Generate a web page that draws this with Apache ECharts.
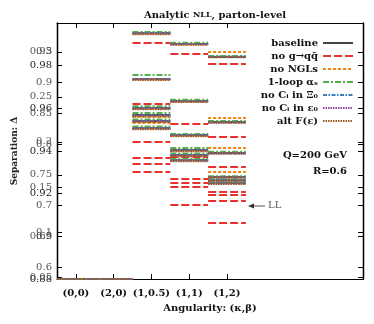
<!DOCTYPE html>
<html>
<head>
<meta charset="utf-8">
<script src="https://cdn.jsdelivr.net/npm/echarts@6/dist/echarts.min.js"></script>
<style>
  html, body { margin: 0; padding: 0; background: #fff; }
  #chart { width: 374px; height: 324px; }
</style>
</head>
<body>
<div id="chart"></div>
<script>
// angularity categories on the x axis
const categories = ['(0,0)', '(2,0)', '(1,0.5)', '(1,1)', '(1,2)'];

// one row per category, one entry per panel value
const baseline = [
  [0.88], [0.88],
  [0.9953, 0.9738, 0.9602, 0.9569, 0.9541, 0.9508],
  [0.9902, 0.9634, 0.9475, 0.9405, 0.9381, 0.9358],
  [0.9841, 0.9536, 0.9391, 0.9278, 0.9264, 0.9250]
];
const noGqq = [
  [0.88], [0.88],
  [0.9906, 0.9620, 0.9442, 0.9367, 0.9339, 0.9302],
  [0.9855, 0.9527, 0.9372, 0.9269, 0.9250, 0.9231, 0.9147],
  [0.9808, 0.9466, 0.9325, 0.9208, 0.9194, 0.9166, 0.9063]
];
const noNGLs = [
  [0.88], [0.88],
  [0.9950, 0.9735, 0.9598, 0.9560, 0.9531, 0.9505],
  [0.9900, 0.9632, 0.9472, 0.9401, 0.9378, 0.9355],
  [0.9864, 0.9555, 0.9414, 0.9302, 0.9264, 0.9250]
];
const oneLoop = [
  [0.88], [0.88],
  [0.9958, 0.9756, 0.9610, 0.9578, 0.9548, 0.9515],
  [0.9907, 0.9640, 0.9480, 0.9414, 0.9388, 0.9362],
  [0.9845, 0.9541, 0.9397, 0.9282, 0.9268, 0.9254]
];
const noCiXi = [
  [0.88], [0.88],
  [0.9952, 0.9737, 0.9600, 0.9567, 0.9540, 0.9507],
  [0.9901, 0.9633, 0.9474, 0.9403, 0.9380, 0.9356],
  [0.9842, 0.9535, 0.9390, 0.9277, 0.9263, 0.9249]
];
const noCiEps = [
  [0.88], [0.88],
  [0.9951, 0.9736, 0.9599, 0.9566, 0.9539, 0.9506],
  [0.9900, 0.9632, 0.9473, 0.9402, 0.9379, 0.9355],
  [0.9841, 0.9534, 0.9389, 0.9277, 0.9262, 0.9248]
];
const altF = [
  [0.88], [0.88],
  [0.9948, 0.9733, 0.9596, 0.9562, 0.9536, 0.9503],
  [0.9898, 0.9630, 0.9470, 0.9399, 0.9376, 0.9352],
  [0.9840, 0.9533, 0.9388, 0.9276, 0.9260, 0.9246]
];

// tick labels of the overlapping y scales
const ticksA = [0.88, 0.9, 0.92, 0.94, 0.96, 0.98];
const ticksB = [0.6, 0.65, 0.7, 0.75, 0.8, 0.85, 0.9, 0.95];
const ticksC = [0.05, 0.1, 0.15, 0.2, 0.25, 0.3];

const serif = "'DejaVu Serif', 'Liberation Serif', serif";

// each value becomes a flat step across its category band
function steps(rows) {
  const out = [];
  rows.forEach((vals, i) => {
    vals.forEach(v => {
      out.push([i - 0.5, v], [i + 0.5, v], [i + 0.5, '-']);
    });
  });
  return out;
}

function seg(name, rows, color, type, width) {
  return {
    name: name,
    type: 'line',
    yAxisIndex: 0,
    showSymbol: false,
    symbol: 'none',
    connectNulls: false,
    animation: false,
    lineStyle: { color: color, type: type, width: width || 2 },
    itemStyle: { color: color },
    data: steps(rows)
  };
}

function yScale(min, max, ticks, pos, showLabels, color) {
  return {
    type: 'value',
    position: pos,
    min: min,
    max: max,
    splitLine: { show: false },
    axisLine: { show: true, onZero: false, lineStyle: { color: '#000', width: 1.2 } },
    axisTick: { show: true, inside: true, length: 5, customValues: ticks, lineStyle: { color: '#000' } },
    axisLabel: {
      show: showLabels,
      customValues: ticks,
      margin: 5,
      fontFamily: serif,
      fontSize: 10,
      color: color,
      formatter: v => String(+v.toFixed(2))
    }
  };
}

const myChart = echarts.init(document.getElementById('chart'));

const main = yScale(0.88, 1.0, ticksA, 'left', true, '#222');
main.name = 'Separation: Δ';
main.nameLocation = 'middle';
main.nameGap = 38;
main.nameTextStyle = { fontFamily: serif, fontSize: 9, fontWeight: 'bold', color: '#222' };

const option = {
  title: {
    text: '{a|Analytic }{b|NLL}{a|, parton-level}',
    left: 210,
    top: 5,
    textAlign: 'center',
    textStyle: {
      rich: {
        a: { fontFamily: serif, fontSize: 10, fontWeight: 'bold', color: '#111' },
        b: { fontFamily: serif, fontSize: 8, fontWeight: 'bold', color: '#111' }
      }
    }
  },
  legend: {
    orient: 'vertical',
    right: 15,
    top: 33,
    align: 'right',
    itemWidth: 30,
    itemHeight: 8,
    itemGap: 3,
    itemStyle: { opacity: 0, borderWidth: 0 },
    textStyle: { fontFamily: serif, fontSize: 10, fontWeight: 'bold', color: '#111' }
  },
  grid: { left: 57, right: 11, top: 23, bottom: 45 },
  xAxis: [
    {
      type: 'value',
      min: -0.5,
      max: 7.6,
      position: 'bottom',
      splitLine: { show: false },
      axisLine: { show: true, onZero: false, lineStyle: { color: '#000', width: 1.2 } },
      axisTick: { show: true, inside: true, length: 5, customValues: [0, 1, 2, 3, 4], lineStyle: { color: '#000' } },
      axisLabel: {
        customValues: [0, 1, 2, 3, 4],
        margin: 9,
        fontFamily: serif,
        fontSize: 10,
        fontWeight: 'bold',
        color: '#111',
        formatter: v => categories[Math.round(v)]
      },
      name: 'Angularity: (κ,β)',
      nameLocation: 'middle',
      nameGap: 24,
      nameTextStyle: { fontFamily: serif, fontSize: 10, fontWeight: 'bold', color: '#111' }
    },
    {
      type: 'value',
      min: -0.5,
      max: 7.6,
      position: 'top',
      splitLine: { show: false },
      axisLine: { show: true, onZero: false, lineStyle: { color: '#000', width: 1.2 } },
      axisTick: { show: true, inside: true, length: 5, customValues: [0, 1, 2, 3, 4], lineStyle: { color: '#000' } },
      axisLabel: { show: false }
    }
  ],
  yAxis: [
    main,
    yScale(0.5805, 0.997, ticksB, 'left', true, '#555'),
    yScale(0.0478, 0.332, ticksC, 'left', true, '#555'),
    yScale(0.88, 1.0, ticksA, 'right', false, '#222'),
    yScale(0.5805, 0.997, ticksB, 'right', false, '#555'),
    yScale(0.0478, 0.332, ticksC, 'right', false, '#555')
  ],
  graphic: [
    {
      type: 'text', right: 27, top: 150,
      style: { text: 'Q=200 GeV', font: 'bold 10px ' + serif, fill: '#111' }
    },
    {
      type: 'text', right: 27, top: 166,
      style: { text: 'R=0.6', font: 'bold 10px ' + serif, fill: '#111' }
    },
    {
      type: 'line',
      shape: { x1: 252, y1: 206, x2: 265, y2: 206 },
      style: { stroke: '#555', lineWidth: 1 }
    },
    {
      type: 'polygon',
      shape: { points: [[248, 206], [254, 203.5], [254, 208.5]] },
      style: { fill: '#333' }
    },
    {
      type: 'text', left: 268, top: 200,
      style: { text: 'LL', font: '10px ' + serif, fill: '#555' }
    }
  ],
  series: [
    seg('baseline', baseline, '#444444', 'solid', 2),
    seg('no g→qq̄', noGqq, '#e8302c', [8, 3], 2),
    seg('no NGLs', noNGLs, '#f5840c', [3, 2], 2),
    seg('1-loop αₛ', oneLoop, '#52b04c', [6, 2, 2, 2], 2),
    seg('no Cᵢ in Ξ₀', noCiXi, '#3a80c0', [4, 1.5, 1.5, 1.5], 2),
    seg('no Cᵢ in ε₀', noCiEps, '#9244a5', [1.5, 1], 2),
    seg('alt F(ε)', altF, '#9c5a22', [1.5, 1], 2.2)
  ]
};

myChart.setOption(option);

window.addEventListener('resize', function() {
  myChart.resize();
});
</script>
</body>
</html>
